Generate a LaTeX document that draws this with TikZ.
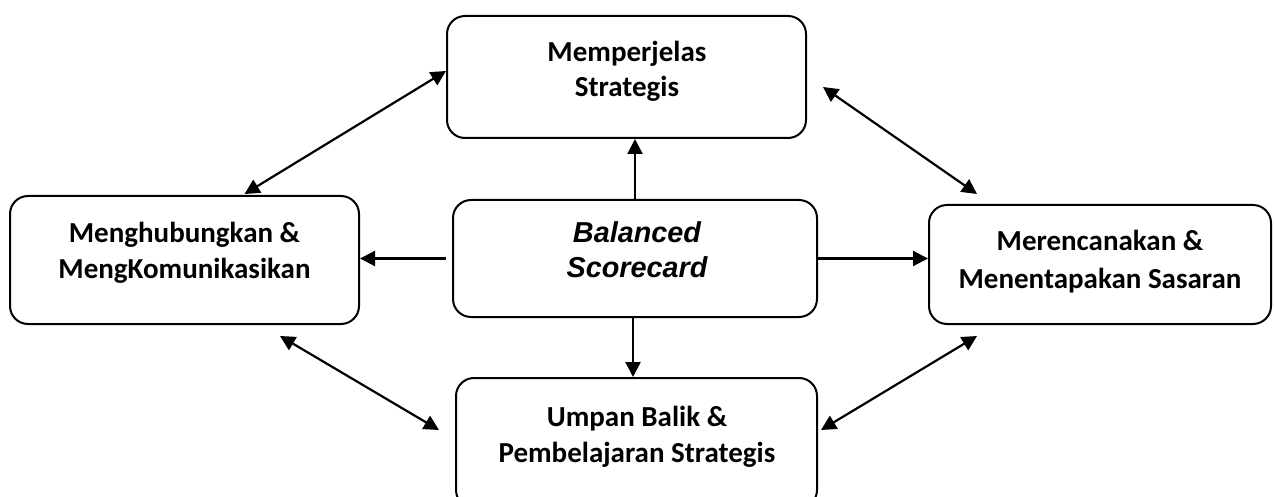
\documentclass[tikz,border=0pt]{standalone}
\usepackage{fontspec}
\setmainfont{Carlito}
\newfontfamily\arialfont{Liberation Sans}
\usetikzlibrary{arrows.meta}
\begin{document}
\begin{tikzpicture}[x=1pt,y=-1pt,
  box/.style={draw, line width=2pt, rounded corners=18pt, inner sep=0pt},
  lbl/.style={anchor=base, inner sep=0pt, font=\fontsize{29}{36}\selectfont\bfseries},
  bsc/.style={anchor=base, inner sep=0pt, font=\fontsize{28.8}{34}\selectfont\arialfont\bfseries\itshape},
  tip/.tip={Triangle[length=15pt,width=15pt]},
  conn/.style={line width=2.2pt, -tip},
  both/.style={line width=2.2pt, tip-tip}]
\useasboundingbox (0,0) rectangle (1274,497);
\clip (0,0) rectangle (1274,497);

% boxes
\node[box, minimum width=359pt, minimum height=122pt] (top)    at (626.5,77)  {};
\node[box, minimum width=349pt, minimum height=128pt] (left)   at (184.5,260) {};
\node[box, minimum width=364pt, minimum height=117pt] (mid)    at (635,258.5) {};
\node[box, minimum width=342pt, minimum height=119pt] (right)  at (1100,264.5) {};
\node[box, minimum width=361pt, minimum height=130pt] (bottom) at (636.5,443) {};

% labels
\node[lbl] (topA) at (627,62) {Memperjelas};
\node[lbl] (topB) at (627,97) {Strategis};
\node[lbl] (leftA) at (184.5,242) {Menghubungkan \&};
\node[lbl] (leftB) at (184.5,278) {MengKomunikasikan};
\node[bsc] (midA) at (637,243) {Balanced};
\node[bsc] (midB) at (637,277) {Scorecard};
\node[lbl] (rightA) at (1100,251) {Merencanakan \&};
\node[lbl] (rightB) at (1100,288) {Menentapakan Sasaran};
\node[lbl] (botA) at (637,426) {Umpan Balik \&};
\node[lbl] (botB) at (637,462) {Pembelajaran Strategis};

% straight arrows from the centre
\draw[conn] (mid.north) -- (mid.north |- top.south);
\draw[conn] ([xshift=-6pt]mid.west) -- (mid.west -| left.east);
\draw[conn] (mid.east) -- (mid.east -| right.west);
\draw[conn] ([xshift=-2pt]mid.south) -- ([xshift=-2pt]mid.south |- bottom.north);

% diagonal two-way arrows
\coordinate (tl1) at ([xshift=60pt,yshift=1pt]left.north);
\coordinate (tl2) at ([yshift=6pt]top.west);
\coordinate (tr1) at ([xshift=16pt,yshift=-10pt]top.east);
\coordinate (tr2) at ([xshift=-123pt,yshift=10pt]right.north);
\coordinate (bl1) at ([xshift=95.5pt,yshift=-11pt]left.south);
\coordinate (bl2) at ([xshift=-16pt,yshift=13pt]bottom.west);
\coordinate (br1) at ([xshift=3pt,yshift=13pt]bottom.east);
\coordinate (br2) at ([xshift=-123pt,yshift=-11pt]right.south);
\draw[both] (tl1) -- (tl2);
\draw[both] (tr1) -- (tr2);
\draw[both] (bl1) -- (bl2);
\draw[both] (br1) -- (br2);
\end{tikzpicture}
\end{document}
